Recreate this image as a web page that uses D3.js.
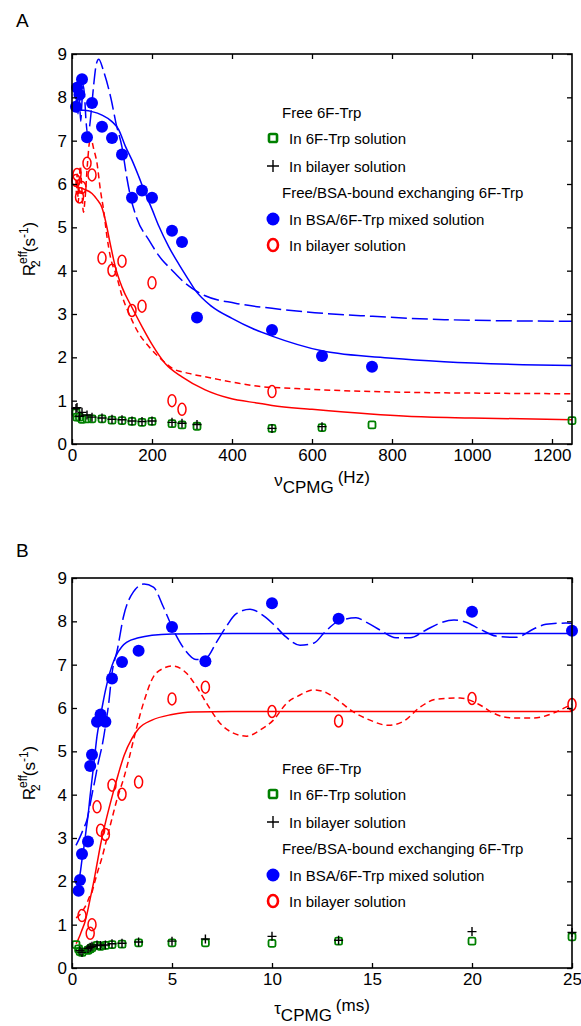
<!DOCTYPE html>
<html>
<head>
<meta charset="utf-8">
<script src="https://cdn.jsdelivr.net/npm/d3@7"></script>
<style>
body { margin: 0; background: #fff; }
text { font-family: Arial, "Liberation Sans", Helvetica, sans-serif; fill: #000; }
</style>
</head>
<body>
<script>
// CPMG spacings used in both panels (same points, two x variables)
const tauCPMG = [25, 20, 13.33, 10, 6.67, 5, 3.33, 2.5, 2, 1.67, 1.43, 1.25, 1, 0.91, 0.8, 0.5, 0.4, 0.33, 0.2];
const nuCPMG = [10, 12.5, 18.75, 25, 37.5, 50, 75, 100, 125, 150, 175, 200, 250, 275, 312.5, 500, 625, 750, 1250];

// R2eff values (s^-1), null = not measured
const freeSolution = [0.72, 0.62, 0.62, 0.57, 0.58, 0.58, 0.58, 0.55, 0.54, 0.52, 0.50, 0.52, 0.47, 0.44, 0.41, 0.36, 0.38, 0.44, 0.54];
const freeBilayer = [0.82, 0.84, 0.64, 0.73, 0.67, 0.62, 0.60, 0.57, 0.56, 0.53, 0.52, 0.53, 0.50, 0.48, 0.45, 0.36, 0.40, null, null];
const bsaMixed = [7.78, 8.22, 8.06, 8.42, 7.08, 7.87, 7.32, 7.06, 6.68, 5.68, 5.85, 5.68, 4.92, 4.66, 2.92, 2.63, 2.03, 1.78, null];
const bsaBilayer = [6.08, 6.22, 5.70, 5.92, 6.48, 6.21, 4.29, 4.01, 4.22, 3.08, 3.18, 3.72, 1.00, 0.80, null, 1.21, null, null, null];

// fitted curves, panel A: [nu (Hz), R2eff]
const aBlueSolid = [[10,7.72],[17,7.71],[30,7.7],[50,7.67],[75,7.59],[100,7.44],[117,7.25],[133,6.88],[150,6.55],[167,6.17],[183,5.79],[200,5.42],[217,5.03],[242,4.55],[267,4.15],[292,3.78],[308,3.55],[350,3.17],[400,2.9],[450,2.67],[500,2.49],[625,2.15],[800,1.98],[930,1.9],[1250,1.81]];
const aBlueDashed = [[10,7.95],[10.5,7.93],[11.3,7.66],[12.2,7.8],[13.1,8.03],[14,7.92],[15,7.62],[16.2,7.78],[17.6,8.08],[19.8,7.73],[21.9,7.45],[24.3,7.8],[28.1,8.28],[32.5,7.87],[34.7,7.5],[40.3,7.13],[44.2,7.34],[49.3,7.8],[54.7,8.33],[61.4,8.79],[67,8.88],[79,8.6],[98,7.95],[110,7.4],[125,6.85],[137,6.15],[146,5.72],[162,5.21],[192,4.71],[225,4.25],[246,4.05],[283,3.71],[333,3.42],[408,3.25],[500,3.13],[607,3.03],[746,2.95],[931,2.87],[1250,2.83]];
const aRedSolid = [[10,5.92],[17,5.92],[30,5.88],[50,5.78],[62,5.65],[75,5.45],[83,5.18],[96,4.6],[108,4.1],[125,3.62],[150,3.15],[175,2.71],[200,2.3],[233,1.86],[275,1.55],[333,1.25],[392,1.06],[467,0.94],[500,0.89],[600,0.8],[746,0.69],[838,0.64],[1000,0.6],[1250,0.56]];
const aRedDashed = [[10,6.08],[11.1,5.77],[12.9,6.23],[15.6,5.58],[20.7,6.42],[24,6.0],[28.6,5.35],[33,5.7],[38.5,6.45],[45,7.0],[50,6.97],[54,6.82],[62.5,6.48],[71,5.86],[79,5.4],[87.5,4.78],[96,4.32],[112,3.86],[125,3.42],[142,3.02],[167,2.55],[192,2.25],[225,1.94],[250,1.75],[292,1.63],[350,1.52],[417,1.4],[467,1.33],[560,1.28],[800,1.2],[1250,1.16]];

// fitted curves, panel B: [tau (ms), R2eff]
const bBlueSolid = [[0.2,1.81],[0.27,1.9],[0.31,1.98],[0.4,2.16],[0.5,2.5],[0.63,2.9],[0.71,3.2],[0.81,3.55],[0.9,3.95],[1.0,4.35],[1.15,4.95],[1.25,5.35],[1.4,5.75],[1.5,6.0],[1.67,6.4],[1.88,6.8],[2.14,7.15],[2.5,7.42],[2.75,7.52],[3.33,7.62],[4,7.68],[5,7.71],[8,7.72],[25,7.72]];
const bBlueDashed = [[0.2,2.83],[0.33,2.95],[0.5,3.13],[0.61,3.25],[0.75,3.42],[0.88,3.71],[1.02,4.05],[1.11,4.25],[1.3,4.71],[1.54,5.21],[1.71,5.7],[1.82,6.05],[2.0,6.8],[2.27,7.35],[2.57,8.1],[3.07,8.68],[3.6,8.86],[4.07,8.79],[4.57,8.33],[5.07,7.8],[5.65,7.34],[6.2,7.12],[6.7,7.15],[7.2,7.5],[7.7,7.87],[8.2,8.17],[8.9,8.28],[9.6,8.12],[10.1,7.92],[10.7,7.64],[11.4,7.45],[12.1,7.5],[12.6,7.73],[13.3,8.0],[14.2,8.08],[14.8,7.96],[15.4,7.8],[16.2,7.62],[16.9,7.62],[17.7,7.8],[18.3,7.94],[19.1,8.03],[19.7,7.98],[20.4,7.82],[21.2,7.66],[22.2,7.63],[23.1,7.83],[23.7,7.93],[24.7,7.96],[25,7.95]];
const bRedSolid = [[0.2,0.56],[0.25,0.6],[0.33,0.68],[0.42,0.78],[0.5,0.88],[0.64,1.05],[0.75,1.25],[0.91,1.6],[1.07,1.95],[1.25,2.4],[1.43,2.85],[1.67,3.35],[2.0,3.95],[2.3,4.45],[2.6,4.9],[3.0,5.3],[3.33,5.52],[4.0,5.72],[5.0,5.85],[6.0,5.91],[8,5.92],[25,5.92]];
const bRedDashed = [[0.2,1.16],[0.33,1.2],[0.5,1.3],[0.6,1.37],[0.75,1.5],[0.86,1.63],[1.0,1.75],[1.11,1.94],[1.3,2.25],[1.5,2.55],[1.76,3.02],[2.0,3.45],[2.23,3.86],[2.6,4.4],[2.86,4.85],[3.07,5.25],[3.57,6.11],[4.07,6.72],[4.6,6.92],[5.0,6.97],[5.73,6.8],[6.23,6.49],[6.73,6.11],[7.4,5.65],[8.07,5.42],[8.73,5.35],[9.4,5.49],[10.07,5.72],[10.73,6.11],[11.4,6.3],[12.07,6.42],[12.73,6.35],[13.4,6.14],[14.07,5.91],[14.9,5.72],[15.8,5.6],[16.6,5.7],[17.4,6.02],[18.2,6.2],[19.4,6.23],[20.4,6.07],[21.07,5.88],[22.07,5.77],[23.07,5.77],[24.07,5.88],[24.7,6.02],[25,6.08]];

const aTicks = [0, 200, 400, 600, 800, 1000, 1200];
const bTicks = [0, 5, 10, 15, 20, 25];
const yTicks = [0, 1, 2, 3, 4, 5, 6, 7, 8, 9];
const legendRows = ["Free 6F-Trp", "In 6F-Trp solution", "In bilayer solution",
    "Free/BSA-bound exchanging 6F-Trp", "In BSA/6F-Trp mixed solution", "In bilayer solution"];

const GREEN = "#008000", BLUE = "#0000ff", RED = "#ff0000";

var svg = d3.select("body")
    .append("svg")
    .attr("width", 581)
    .attr("height", 1026);

// marker drawers
function drawMarker(g, kind, cx, cy, big) {
    const k = big ? 1.15 : 1;
    if (kind == "free") {
        g.append("rect").attr("x", cx - 3.5 * k).attr("y", cy - 3.5 * k)
            .attr("width", 7 * k).attr("height", 7 * k).attr("rx", 1.5)
            .attr("fill", "none").attr("stroke", GREEN).attr("stroke-width", big ? 2.6 : 1.8);
    } else if (kind == "freeBil") {
        const s = big ? 6 : 4.5;
        g.append("path").attr("d", `M${cx - s},${cy}H${cx + s}M${cx},${cy - s}V${cy + s}`)
            .attr("stroke", "#000").attr("stroke-width", 1.4);
    } else if (kind == "bsa") {
        g.append("circle").attr("cx", cx).attr("cy", cy).attr("r", big ? 6.5 : 6).attr("fill", BLUE);
    } else {
        g.append("ellipse").attr("cx", cx).attr("cy", cy).attr("rx", big ? 5 : 4).attr("ry", 6)
            .attr("fill", "none").attr("stroke", RED).attr("stroke-width", big ? 2.6 : 1.5);
    }
}

function panel(opt) {
    const g = svg.append("g");
    const x = d3.scaleLinear().domain(opt.xDomain).range([72, 572]);
    const y = d3.scaleLinear().domain([0, 9]).range([opt.y0, opt.y0 - 390]);

    // fitted curves
    const line = d3.line().x(d => x(d[0])).y(d => y(d[1])).curve(d3.curveMonotoneX);
    opt.curves.forEach(c => {
        g.append("path")
            .attr("d", line(c.data))
            .attr("fill", "none")
            .attr("stroke", c.color)
            .attr("stroke-width", 1.5)
            .attr("stroke-dasharray", c.dash);
    });

    // data points
    const series = [["free", freeSolution], ["freeBil", freeBilayer], ["bsaBil", bsaBilayer], ["bsa", bsaMixed]];
    series.forEach(([kind, vals]) => {
        vals.forEach((v, i) => {
            if (v == null) return;
            drawMarker(g, kind, x(opt.xs[i]), y(v), false);
        });
    });

    // axes, ticks pointing inward on all four sides
    const fontAttrs = sel => sel.attr("font-size", 17).attr("font-family", "Arial, 'Liberation Sans', sans-serif");
    const bottom = g.append("g").attr("transform", `translate(0,${y(0)})`)
        .call(d3.axisBottom(x).tickValues(opt.xTicks).tickFormat(d3.format("d"))
            .tickSizeInner(-5).tickSizeOuter(0).tickPadding(5));
    const left = g.append("g").attr("transform", "translate(72,0)")
        .call(d3.axisLeft(y).tickValues(yTicks).tickFormat(d3.format("d"))
            .tickSizeInner(-5).tickSizeOuter(0).tickPadding(5));
    const top = g.append("g").attr("transform", `translate(0,${y(9)})`)
        .call(d3.axisTop(x).tickValues(opt.xTicks).tickSizeInner(-5).tickSizeOuter(0).tickFormat(() => ""));
    const right = g.append("g").attr("transform", "translate(572,0)")
        .call(d3.axisRight(y).tickValues(yTicks).tickSizeInner(-5).tickSizeOuter(0).tickFormat(() => ""));
    [bottom, left, top, right].forEach(a => {
        fontAttrs(a);
        a.select(".domain").remove();
        a.selectAll("line").attr("stroke", "#000").attr("stroke-width", 1.3);
        a.selectAll("text").attr("fill", "#000");
    });

    g.append("rect")
        .attr("x", 72).attr("y", y(9))
        .attr("width", 500).attr("height", 390)
        .attr("fill", "none").attr("stroke", "#000").attr("stroke-width", 1.6);

    // legend
    const offs = [0, 26, 54, 80, 107, 133];
    const kinds = [null, "free", "freeBil", null, "bsa", "bsaBil"];
    legendRows.forEach((t, i) => {
        const ly = opt.legendTop + offs[i];
        if (kinds[i]) drawMarker(g, kinds[i], 273, ly, true);
        g.append("text")
            .attr("x", kinds[i] ? 289 : 282).attr("y", ly)
            .attr("dominant-baseline", "central")
            .attr("font-size", 15)
            .text(t);
    });

    // panel letter
    g.append("text").attr("x", 16).attr("y", opt.letterY).attr("font-size", 19).text(opt.letter);

    // y label
    const yl = g.append("text")
        .attr("transform", `translate(35,${(y(0) + y(9)) / 2}) rotate(-90)`)
        .attr("text-anchor", "middle")
        .attr("font-size", 17);
    yl.append("tspan").text("R");
    yl.append("tspan").attr("font-size", 12).attr("dy", -8).text("eff");
    yl.append("tspan").attr("font-size", 12).attr("dx", -16).attr("dy", 13).text("2");
    yl.append("tspan").attr("dx", 8).attr("dy", -5).text("(s");
    yl.append("tspan").attr("font-size", 12).attr("dy", -7).text("-1");
    yl.append("tspan").attr("dy", 7).text(")");

    // x label
    const xl = g.append("text")
        .attr("x", 322).attr("y", y(0) + opt.xLabelDy)
        .attr("text-anchor", "middle")
        .attr("font-size", 17);
    xl.append("tspan").text(opt.xSym);
    xl.append("tspan").attr("dy", 7).text("CPMG");
    xl.append("tspan").attr("dx", 4).attr("dy", -10).text(opt.xUnit);
}

panel({
    xDomain: [0, 1250], y0: 444, xs: nuCPMG, xTicks: aTicks,
    curves: [
        { data: aRedSolid, color: RED, dash: null },
        { data: aRedDashed, color: RED, dash: "6,4" },
        { data: aBlueSolid, color: BLUE, dash: null },
        { data: aBlueDashed, color: BLUE, dash: "16,5" }
    ],
    legendTop: 112, letter: "A", letterY: 27, xSym: "\u03bd", xUnit: "(Hz)", xLabelDy: 42
});

panel({
    xDomain: [0, 25], y0: 968, xs: tauCPMG, xTicks: bTicks,
    curves: [
        { data: bRedSolid, color: RED, dash: null },
        { data: bRedDashed, color: RED, dash: "6,4" },
        { data: bBlueSolid, color: BLUE, dash: null },
        { data: bBlueDashed, color: BLUE, dash: "16,5" }
    ],
    legendTop: 768, letter: "B", letterY: 557, xSym: "\u03c4", xUnit: "(ms)", xLabelDy: 46
});
</script>
</body>
</html>
